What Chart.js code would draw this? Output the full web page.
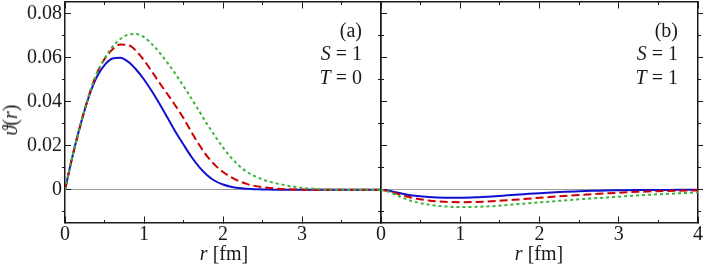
<!DOCTYPE html>
<html>
<head>
<meta charset="utf-8">
<script src="https://cdn.jsdelivr.net/npm/chart.js@4.4.1/dist/chart.umd.min.js"></script>
<style>
  body { margin: 0; background: #fff; }
  #wrap { position: relative; width: 706px; height: 266px; overflow: hidden;
          font-family: "Liberation Serif", "Times New Roman", Times, serif; color: #1a1a1a; }
  canvas { position: absolute; left: 0; top: 0; }
  .lbl { position: absolute; font-size: 20px; line-height: 22px; white-space: pre; }
  .eq { margin: 0 5px; }
</style>
</head>
<body>
<div id="wrap">
  <canvas id="panelA" width="706" height="266"></canvas>
  <canvas id="panelB" width="706" height="266"></canvas>

  <div class="lbl" style="right:344px; top:19px">(a)</div>
  <div class="lbl" style="right:344px; top:42px"><i>S</i><span class="eq">=</span>1</div>
  <div class="lbl" style="right:344px; top:66px"><i>T</i><span class="eq">=</span>0</div>

  <div class="lbl" style="right:28px; top:19px">(b)</div>
  <div class="lbl" style="right:28px; top:42px"><i>S</i><span class="eq">=</span>1</div>
  <div class="lbl" style="right:28px; top:66px"><i>T</i><span class="eq">=</span>1</div>

  <div class="lbl" style="left:224px; top:242px; transform:translateX(-50%)"><i>r</i> [fm]</div>
  <div class="lbl" style="left:539px; top:242px; transform:translateX(-50%)"><i>r</i> [fm]</div>
  <div class="lbl" style="left:10px; top:120px; transform:translate(-50%,-50%) rotate(-90deg)"><i>ϑ</i>(<i>r</i>)</div>
</div>

<script>
// ---- data ----
const rA = [0, 0.1, 0.2, 0.3, 0.4, 0.5, 0.6, 0.7, 0.8, 0.9,
            1.0, 1.1, 1.2, 1.3, 1.4, 1.5, 1.6, 1.7, 1.8, 1.9,
            2.0, 2.1, 2.2, 2.3, 2.4, 2.5, 2.6, 2.7, 2.8, 2.9,
            3.0, 3.1, 3.2, 3.3, 3.4, 3.5, 3.6, 3.7, 3.8, 3.9, 4.0];

// panel (a): S = 1, T = 0
const blueA = [0, 0.016, 0.030, 0.042, 0.051, 0.0565, 0.0595, 0.0598, 0.0580, 0.0545,
               0.0500, 0.0447, 0.0388, 0.0325, 0.0262, 0.0205, 0.0150, 0.0103, 0.0066, 0.0040,
               0.0024, 0.0014, 0.0008, 0.0005, 0.0003, 0.0002, 0.0001, 0, 0, 0,
               0, 0, 0, 0, 0, 0, 0, 0, 0, 0, 0];
const redA = [0, 0.016, 0.030, 0.0425, 0.0525, 0.0592, 0.0636, 0.0658, 0.0656, 0.0630,
              0.0587, 0.0536, 0.0483, 0.0432, 0.0380, 0.0325, 0.0262, 0.0203, 0.0152, 0.0112,
              0.0081, 0.0058, 0.0040, 0.0027, 0.0018, 0.0012, 0.0008, 0.0005, 0.0003, 0.0002,
              0.0001, 0, 0, 0, 0, 0, 0, 0, 0, 0, 0];
const greenA = [0, 0.016, 0.030, 0.0425, 0.0525, 0.0595, 0.0648, 0.0683, 0.0703, 0.0706,
                0.0692, 0.0660, 0.0620, 0.0574, 0.0524, 0.0470, 0.0414, 0.0356, 0.0297, 0.0243,
                0.0192, 0.0147, 0.0110, 0.0082, 0.0062, 0.0047, 0.0036, 0.0027, 0.0020, 0.0014,
                0.0009, 0.0006, 0.0004, 0.0002, 0.0001, 0, 0, 0, 0, 0, 0];

// panel (b): S = 1, T = 1
const rB = [0, 0.1, 0.2, 0.3, 0.4, 0.6, 0.8, 1.0, 1.2, 1.4, 1.6, 1.8,
            2.0, 2.25, 2.5, 2.75, 3.0, 3.25, 3.5, 3.75, 4.0];
const blueB = [0, -0.0004, -0.0012, -0.0020, -0.0026, -0.0033, -0.0036, -0.0036, -0.0034, -0.0030,
               -0.0025, -0.0020, -0.0015, -0.0010, -0.0006, -0.0004, -0.0002, -0.0001, -0.0001, 0, 0];
const redB = [0, -0.0006, -0.0017, -0.0028, -0.0037, -0.0048, -0.0054, -0.0056, -0.0055, -0.0052,
              -0.0047, -0.0042, -0.0036, -0.0029, -0.0023, -0.0018, -0.0013, -0.0009, -0.0006, -0.0004, -0.0003];
const greenB = [0, -0.0009, -0.0025, -0.0040, -0.0052, -0.0067, -0.0075, -0.0078, -0.0077, -0.0074,
                -0.0069, -0.0063, -0.0057, -0.0050, -0.0043, -0.0037, -0.0031, -0.0025, -0.0020, -0.0016, -0.0012];

// ticks
const xTicksA = [0, 1, 2, 3];
const xTicksB = [0, 1, 2, 3, 4];
const xMinorTicks = [0.5, 1.5, 2.5, 3.5];
const yTicks = [0, 0.02, 0.04, 0.06, 0.08];
const yMinorTicks = [-0.01, 0.01, 0.03, 0.05, 0.07];
const xMin = 0, xMax = 4;
const yMin = -0.0148, yMax = 0.0851;

// ---- style ----
const INK = '#1a1a1a';
const FONT = { family: '"Liberation Serif", "Times New Roman", Times, serif', size: 20 };
const BLUE = '#1010d0', RED = '#cc0000', GREEN = '#3cb43c';

function pts(xs, ys) {
  return xs.map((x, i) => ({ x: x, y: ys[i] }));
}

function fixedTicks(list) {
  return scale => { scale.ticks = list.map(v => ({ value: v })); };
}

function series(xs, ys, color, dash) {
  return {
    data: pts(xs, ys),
    borderColor: color,
    borderWidth: 2,
    borderDash: dash,
    pointRadius: 0,
    fill: false,
    cubicInterpolationMode: 'monotone'
  };
}

// tick-only axis drawn at an edge of the frame
function edgeAxis(axis, position, list, len, border) {
  return {
    type: 'linear', axis: axis, position: position, bounds: 'data',
    min: axis === 'x' ? xMin : yMin,
    max: axis === 'x' ? xMax : yMax,
    afterBuildTicks: fixedTicks(list),
    afterFit: s => { if (axis === 'x') s.height = 0; else s.width = 0; },
    ticks: { display: false },
    grid: { drawOnChartArea: false, drawTicks: true, tickLength: len, tickColor: INK },
    border: { display: border, color: INK, width: 1.5 }
  };
}

function makePanel(canvasId, xs, blue, red, green, xTicks, showY, yWidth, padRight) {
  return new Chart(document.getElementById(canvasId), {
    type: 'line',
    data: {
      datasets: [
        series(xs, green, GREEN, [3, 3]),
        series(xs, red, RED, [8, 4]),
        series(xs, blue, BLUE, [])
      ]
    },
    options: {
      responsive: false,
      devicePixelRatio: 1,
      animation: false,
      events: [],
      layout: { padding: { left: 0, top: 2, right: padRight, bottom: 0 } },
      plugins: { legend: { display: false }, tooltip: { enabled: false } },
      scales: {
        x: {
          type: 'linear', position: 'bottom', min: xMin, max: xMax, bounds: 'data',
          afterBuildTicks: fixedTicks(xTicks),
          afterFit: s => { s.height = 43.5; s.paddingLeft = 0; s.paddingRight = 0; },
          ticks: { font: FONT, color: INK, padding: 6, maxRotation: 0, autoSkip: false,
                   callback: v => String(v) },
          grid: { drawOnChartArea: false, tickLength: -6, tickColor: INK },
          border: { display: true, color: INK, width: 1.5 }
        },
        y: {
          type: 'linear', position: 'left', min: yMin, max: yMax, bounds: 'data',
          afterBuildTicks: fixedTicks(yTicks),
          afterFit: s => { s.width = yWidth; s.paddingTop = 0; s.paddingBottom = 0; },
          ticks: { display: showY, font: FONT, color: INK, padding: 9,
                   callback: v => v === 0 ? '0' : v.toFixed(2) },
          grid: {
            drawOnChartArea: true,
            color: c => (c.tick && c.tick.value === 0) ? '#9a9a9a' : 'rgba(0,0,0,0)',
            tickLength: -6, tickColor: INK
          },
          border: { display: true, color: INK, width: 1.5 }
        },
        xMinor: edgeAxis('x', { y: yMin }, xMinorTicks, -3, false),
        xTop: edgeAxis('x', { y: yMax }, xTicksB, 6, true),
        xTopMinor: edgeAxis('x', { y: yMax }, xMinorTicks, 3, false),
        yMinor: edgeAxis('y', { x: xMin }, yMinorTicks, 3, false),
        yRight: edgeAxis('y', { x: xMax }, yTicks, -6, true),
        yRightMinor: edgeAxis('y', { x: xMax }, yMinorTicks, -3, false)
      }
    }
  });
}

makePanel('panelA', rA, blueA, redA, greenA, xTicksA, true, 65, 325);
makePanel('panelB', rB, blueB, redB, greenB, xTicksB, false, 381, 8);
</script>
</body>
</html>
